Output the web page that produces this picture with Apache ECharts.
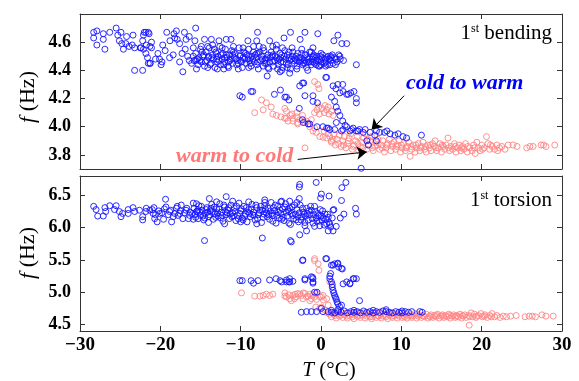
<!DOCTYPE html>
<html><head><meta charset="utf-8">
<script src="https://cdn.jsdelivr.net/npm/echarts@6/dist/echarts.min.js"></script>
<style>html,body{margin:0;padding:0;background:#fff}#c{width:579px;height:381px}</style>
</head><body><div id="c"></div>
<script>
// ---------- DATA ----------
const xTicks = [-30, -20, -10, 0, 10, 20, 30];
const bendTicks = [3.8, 4.0, 4.2, 4.4, 4.6];
const torsTicks = [4.5, 5.0, 5.5, 6.0, 6.5];

// 1st bending, cold to warm (blue): sparse points
const bendBlueSparse = [
[-28.3,4.67],[-27.9,4.68],[-28.3,4.63],[-27.9,4.58],[-27.1,4.66],[-27.1,4.62],[-26.9,4.55],[-26.3,4.67],[-25.5,4.70],[-25.3,4.65],[-25.1,4.61],[-24.8,4.59],[-24.6,4.55],[-24.3,4.59],[-23.9,4.57],[-23.5,4.58],[-23.2,4.56],[-24.2,4.64],[-24.9,4.67],[-23.4,4.65],[-22.1,4.65],[-23.2,4.40],[-22.2,4.40],[-21.8,4.67],[-21.4,4.66],[-22.5,4.56],[-22.1,4.55],[-21.8,4.52],[-21.3,4.57],[-21.1,4.60],[-21.6,4.49],[-21.3,4.45],[-20.6,4.48],[-20.3,4.52],[-20.1,4.48],[-19.8,4.46],[-19.4,4.54],[-19.7,4.58],[-18.8,4.61],[-19.2,4.67],[-18.3,4.66],[-17.9,4.62],[-17.6,4.59],[-17.3,4.52],[-16.9,4.55],[-16.6,4.50],[-16.4,4.47],[-16.1,4.45],[-15.6,4.47],[-15.9,4.56],[-17.0,4.67],[-16.4,4.64],[-15.7,4.61],
[-22.0,4.67],[-21.5,4.67],[-22.2,4.61],[-21.75,4.58],[-22.4,4.56],[-21.1,4.56],[-21.5,4.45],[-21.25,4.45],[-19.9,4.44],[-18.0,4.68],[-15.6,4.70],[-16.8,4.62],[-18.2,4.63],[-14.5,4.62],[-13.65,4.62],[-12.7,4.61],[-11.8,4.62],[-11.2,4.62],[-14.1,4.57],[-18.4,4.51],[-18.85,4.49],[-17.6,4.46],[-17.2,4.39],[-12.1,4.41],
[-7.9,4.67],[-3.8,4.67],[-2.0,4.67],[-0.4,4.66],[-2.6,4.62],[-4.6,4.63],[1.6,4.61],[2.1,4.65],[2.6,4.59],[3.2,4.59],[4.4,4.44],[0.7,4.35],[-6.7,4.36],[-9.1,4.61],[-8.0,4.61],[-6.4,4.61],[-5.55,4.58],[-1.0,4.56],[1.3,4.49],[2.35,4.50],[1.1,4.44],[-0.15,4.43],[-1.65,4.40],[-3.9,4.38],[-5.1,4.39]
];
// 1st bending, blue: dense band
const bendBlueBand = [
[-15.8,4.47],[-15.6,4.52],[-15.3,4.44],[-15.2,4.49],[-15.0,4.55],[-14.9,4.46],[-14.7,4.50],[-14.5,4.43],[-14.3,4.53],[-14.2,4.47],[-14.0,4.49],[-13.9,4.56],[-13.7,4.45],[-13.5,4.51],[-13.4,4.48],[-13.2,4.42],[-13.1,4.53],[-12.9,4.46],[-12.8,4.50],[-12.6,4.57],[-12.5,4.44],[-12.3,4.48],[-12.2,4.52],[-12.0,4.46],[-11.9,4.55],[-11.7,4.49],[-11.6,4.43],[-11.4,4.51],[-11.3,4.47],[-11.1,4.54],[-11.0,4.45],[-10.8,4.49],[-10.7,4.52],[-10.5,4.44],[-10.4,4.47],[-10.2,4.56],[-10.1,4.50],[-9.9,4.46],[-9.8,4.42],[-9.6,4.53],[-9.5,4.48],[-9.3,4.45],[-9.2,4.51],[-9.0,4.55],[-8.9,4.47],[-8.7,4.43],[-8.6,4.50],[-8.4,4.53],[-8.3,4.46],[-8.1,4.49],[-8.0,4.44],[-7.8,4.52],[-7.7,4.57],[-7.5,4.47],[-7.4,4.50],[-7.2,4.43],[-7.1,4.54],[-6.9,4.48],[-6.8,4.45],[-6.6,4.51],[-6.5,4.41],[-6.3,4.49],[-6.2,4.53],[-6.0,4.46],[-5.9,4.43],[-5.7,4.50],[-5.6,4.55],[-5.4,4.47],[-5.3,4.44],[-5.1,4.52],[-5.0,4.49],[-4.8,4.42],[-4.7,4.46],[-4.5,4.54],[-4.4,4.48],[-4.2,4.51],[-4.1,4.44],[-3.9,4.47],[-3.8,4.41],[-3.6,4.50],[-3.5,4.53],[-3.3,4.45],[-3.2,4.48],[-3.0,4.43],[-2.9,4.52],[-2.7,4.46],[-2.6,4.49],[-2.4,4.55],[-2.3,4.44],[-2.1,4.47],[-2.0,4.51],[-1.8,4.42],[-1.7,4.49],[-1.5,4.46],[-1.4,4.53],[-1.2,4.44],[-1.1,4.48],[-0.9,4.51],[-0.8,4.45],[-0.6,4.47],[-0.5,4.50],[-0.3,4.43],[-0.2,4.48],[0.0,4.46],[0.2,4.51],[0.4,4.45],[0.5,4.48],[0.8,4.44],[0.9,4.50],[1.2,4.47],[1.5,4.45],[1.7,4.49],[2.0,4.46],[2.4,4.48],[2.8,4.47],
[-15.9,4.50],[-15.4,4.48],[-14.8,4.53],[-14.4,4.46],[-13.8,4.44],[-13.3,4.55],[-12.7,4.47],[-12.1,4.44],[-11.8,4.51],[-11.2,4.48],[-10.9,4.53],[-10.3,4.45],[-9.7,4.49],[-9.4,4.52],[-8.8,4.45],[-8.5,4.48],[-7.9,4.46],[-7.6,4.53],[-7.0,4.47],[-6.7,4.49],[-6.1,4.50],[-5.8,4.47],[-5.2,4.48],[-4.9,4.51],[-4.3,4.45],[-4.0,4.49],[-3.4,4.47],[-3.1,4.50],[-2.5,4.47],[-2.2,4.45],[-1.6,4.48],[-1.3,4.46],[-0.7,4.49],[-0.4,4.47],[0.1,4.49],[0.6,4.46],[1.0,4.48],[1.4,4.51],[1.9,4.48],
[-15.1,4.47],[-14.6,4.51],[-13.6,4.49],[-13.0,4.48],[-12.4,4.51],[-11.5,4.46],[-10.6,4.48],[-10.0,4.51],[-9.1,4.48],[-8.2,4.51],[-7.3,4.48],[-6.4,4.46],[-5.5,4.49],[-4.6,4.50],[-3.7,4.48],[-2.8,4.49],[-1.9,4.51],[-1.0,4.46],[-0.1,4.50],[0.7,4.49],
[-15.5,4.41],[-14.9,4.57],[-14.1,4.42],[-13.5,4.58],[-12.9,4.41],[-12.3,4.56],[-11.5,4.42],[-10.9,4.57],[-10.3,4.41],[-9.7,4.56],[-9.0,4.42],[-8.4,4.57],[-7.8,4.41],[-7.2,4.56],[-6.6,4.42],[-6.0,4.57],[-5.4,4.41],[-4.8,4.56],[-4.2,4.42],[-3.6,4.56],[-3.0,4.41],[-2.4,4.52],[-1.8,4.46],[-1.2,4.53],[-0.6,4.44],[0.0,4.52],[0.6,4.43],[1.2,4.50],[1.8,4.44],[2.2,4.51],
[-14.0,4.50],[-13.0,4.52],[-12.0,4.49],[-11.0,4.51],[-10.0,4.47],[-9.0,4.50],[-8.0,4.52],[-7.0,4.45],[-6.0,4.51],[-5.0,4.46],[-4.0,4.53],[-3.0,4.47],[-2.0,4.45],[-1.0,4.50],[0.0,4.44]
];
// 1st bending, blue: transition branch
const bendBlueTrans = [
[-10.1,4.22],[-9.8,4.21],[-8.7,4.25],[-8.5,4.25],[-5.8,4.23],[-5.05,4.26],[-4.3,4.21],[-4.0,4.19],[-4.9,4.40],[-4.5,4.21],[-2.65,4.29],[-2.15,4.31],[-2.3,4.31],[-2.0,4.22],[-1.0,4.22],[-1.0,4.18],[-0.45,4.17],[-2.7,4.13],[0.6,4.35],[1.5,4.29],[2.1,4.30],[2.7,4.30],[1.85,4.27],[2.35,4.24],[1.3,4.21],[1.7,4.18],[1.9,4.14],[2.1,4.11],[2.35,4.08],[2.7,4.04],[3.0,4.01],[2.75,4.25],[3.4,4.23],[3.2,4.23],[3.7,4.24],[4.1,4.25],[4.4,4.20],[4.4,4.17],[4.8,3.98],[5.0,3.705],
[-2.3,4.05],[-2.2,4.03],[-1.6,4.02],[-1.4,4.02],[-0.5,4.00],[0.25,4.00],[0.7,3.99],[0.9,3.99],[1.1,3.98],[1.7,3.98],[1.9,4.03],[2.55,3.97],[2.75,3.98],[3.6,3.97],[3.8,3.98],[4.4,3.97],[4.6,3.97],[5.25,3.96],[6.1,3.96],[6.7,3.94],[6.9,3.97],[7.3,3.96],[7.9,3.96],[8.6,3.95],[9.2,3.94],[9.6,3.95],[10.2,3.93],[10.65,3.92],[12.5,3.94],[5.7,3.90],[5.9,3.87],[6.9,3.90],[3.2,4.00],[4.0,3.99],[5.5,3.98],[8.2,3.97]
];
// 1st bending, warm to cold (pink): transition
const bendPinkTrans = [
[-8.25,4.10],[-7.4,4.19],[-6.8,4.17],[-7.2,4.12],[-6.2,4.14],[-5.55,4.08],[-4.5,4.13],[-4.3,4.06],[-3.5,4.06],[-2.65,4.05],[-2.0,4.03],[-2.9,4.02],[-1.4,4.00],[-0.8,3.99],[-0.6,3.96],[0.25,3.925],[-2.0,3.85],[-0.8,4.32],[-0.4,4.30],[-0.25,4.27],
[-0.8,4.10],[-0.5,4.12],[-0.2,4.09],[0.1,4.13],[0.4,4.10],[0.7,4.12],[1.0,4.09],[1.3,4.11],[-0.3,4.14],[0.5,4.15],[0.9,4.14],[1.5,4.08],
[-4.5,4.06],[-4.1,4.04],[-3.5,4.04],[-2.9,4.03],[-1.8,4.04],[-1.0,3.97],[-0.15,3.93],[0.7,3.92],[1.3,3.90],[-5.0,4.07],[-6.0,4.09],[-3.8,4.08],[-3.0,4.07],[-1.6,4.02],[-1.2,4.05],[0.4,3.97],[0.9,3.95],[-4.3,4.11],[-3.6,4.09],[-3.0,4.10],[-2.3,4.08]
];
// 1st bending, pink: main band
const bendPinkBand = [
[1.1,3.93],[1.3,3.89],[1.6,3.95],[1.8,3.87],[2.0,3.91],[2.3,3.94],[2.5,3.86],[2.7,3.90],[2.9,3.93],[3.1,3.85],[3.3,3.88],[3.5,3.92],[3.7,3.95],[3.9,3.84],[4.1,3.87],[4.3,3.90],[4.5,3.93],[4.7,3.83],[4.9,3.86],[5.1,3.89],[5.3,3.92],[5.5,3.95],[5.7,3.84],[5.9,3.87],[6.1,3.90],[6.3,3.93],[6.5,3.83],[6.7,3.86],[6.9,3.89],[7.1,3.91],[7.3,3.84],[7.5,3.87],[7.7,3.90],[7.9,3.82],[8.1,3.85],[8.3,3.88],[8.5,3.91],[8.7,3.83],[8.9,3.86],[9.1,3.89],[9.3,3.84],[9.5,3.87],[9.7,3.90],[9.9,3.82],[10.1,3.85],[10.3,3.88],[10.5,3.83],[10.7,3.86],[10.9,3.89],[11.1,3.79],[11.3,3.84],[11.5,3.87],[11.7,3.82],[11.9,3.85],[12.1,3.88],[12.3,3.83],[12.5,3.86],[12.7,3.89],[12.9,3.84],[13.1,3.82],[13.3,3.87],[13.5,3.85],[13.7,3.83],[13.9,3.88],[14.1,3.86],[14.2,3.90],[14.4,3.83],[14.6,3.85],[14.8,3.88],[15.0,3.82],[15.2,3.86],[15.4,3.84],[15.6,3.87],[15.8,3.92],[16.0,3.83],[16.2,3.86],[16.4,3.84],[16.6,3.88],[16.8,3.82],[17.0,3.85],[17.2,3.87],[17.4,3.83],[17.6,3.86],[17.8,3.84],[18.0,3.88],[18.2,3.82],[18.5,3.85],[18.8,3.83],[19.0,3.87],[19.2,3.81],[19.4,3.89],[19.6,3.85],[19.8,3.83],[20.0,3.87],[20.3,3.85],[20.6,3.93],[20.8,3.88],[21.0,3.84],[21.3,3.86],[21.6,3.84],[21.9,3.87],[22.2,3.85],[22.5,3.86],[22.9,3.84],[23.3,3.87],[23.9,3.87],[24.4,3.86],[25.6,3.85],[26.0,3.86],[26.4,3.86],[27.4,3.87],[27.7,3.87],[28.0,3.86],[29.1,3.87],
[1.5,3.91],[2.2,3.88],[2.8,3.87],[3.4,3.90],[4.0,3.86],[4.6,3.88],[5.2,3.85],[5.8,3.91],[6.4,3.85],[7.0,3.87],[7.6,3.85],[8.2,3.87],[8.8,3.88],[9.4,3.86],[10.0,3.87],[10.6,3.85],[11.2,3.86],[11.8,3.87],[12.4,3.85],[13.0,3.86],[13.6,3.87],[14.3,3.85],[15.1,3.87],[15.9,3.85],[16.7,3.86],[17.5,3.85],[18.3,3.86],[19.1,3.85],[20.1,3.84],[21.1,3.87],[22.0,3.83]
];

// 1st torsion, blue: sparse / outliers
const torsBlueSparse = [
[-28.3,6.33],[-28.0,6.28],[-27.8,6.18],[-27.1,6.18],[-26.9,6.31],[-26.3,6.34],[-26.8,6.25],[-25.5,6.34],[-25.7,6.28],[-25.1,6.25],[-24.9,6.17],[-24.7,6.22],[-24.0,6.22],[-24.0,6.28],[-23.4,6.31],[-23.2,6.25],[-22.6,6.27],[-22.2,6.17],[-22.2,6.12],[-21.75,6.30],[-21.3,6.27],[-20.9,6.22],[-20.7,6.14],[-20.4,6.09],[-20.1,6.22],[-19.35,6.44],[-19.3,6.32],[-18.85,6.25],[-18.6,6.09],[-18.4,6.17],[-18.0,6.30],[-17.6,6.22],[-17.4,6.35],[-17.2,6.14],[-16.8,6.27],[-16.35,6.19],[-15.9,6.38],[-15.5,6.25],[-15.3,6.14],
[-14.5,5.80],[-13.9,6.45],[-11.8,6.48],[-7.0,6.43],[-4.9,6.41],[-3.9,6.41],[-2.7,6.45],[-2.65,6.67],[-2.7,6.63],[-0.6,6.70],[3.1,6.70],[2.6,6.62],[0.05,6.52],[-0.05,6.46],[1.0,6.49],[2.55,6.42],[1.6,6.28],[4.3,6.30],[4.4,6.21],[2.85,6.21],[2.4,6.15],[1.9,6.02],[1.1,6.05],[1.5,5.95],[0.9,5.95],[-1.8,5.95],[-2.65,5.89],[-3.8,5.80],[-3.7,5.78],[-7.3,5.84],[-0.8,6.02],[-0.15,6.03],[1.5,6.27]
];
// 1st torsion, blue: dense band
const torsBlueBand = [
[-21.8,6.25],[-21.0,6.28],[-20.6,6.20],[-20.2,6.26],[-19.8,6.23],[-19.5,6.29],[-19.0,6.20],[-18.7,6.27],[-18.2,6.22],[-17.8,6.19],[-17.5,6.26],[-17.0,6.23],[-16.7,6.30],[-16.3,6.24],[-16.5,6.14],[-17.9,6.33],[-19.6,6.13],[-20.8,6.31],
[-16.0,6.22],[-15.8,6.30],[-15.6,6.16],[-15.4,6.25],[-15.2,6.34],[-15.0,6.19],[-14.8,6.27],[-14.6,6.12],[-14.4,6.22],[-14.2,6.31],[-14.0,6.17],[-13.8,6.26],[-13.6,6.36],[-13.4,6.13],[-13.2,6.21],[-13.0,6.29],[-12.8,6.18],[-12.6,6.37],[-12.4,6.24],[-12.2,6.10],[-12.0,6.32],[-11.8,6.20],[-11.6,6.27],[-11.4,6.14],[-11.2,6.35],[-11.0,6.23],[-10.8,6.30],[-10.6,6.11],[-10.4,6.19],[-10.2,6.38],[-10.0,6.26],[-9.8,6.15],[-9.6,6.33],[-9.4,6.21],[-9.2,6.09],[-9.0,6.28],[-8.8,6.17],[-8.6,6.36],[-8.4,6.24],[-8.2,6.12],[-8.0,6.31],[-7.8,6.20],[-7.6,6.27],[-7.4,6.08],[-7.2,6.16],[-7.0,6.34],[-6.8,6.23],[-6.6,6.30],[-6.4,6.13],[-6.2,6.39],[-6.0,6.19],[-5.8,6.26],[-5.6,6.07],[-5.4,6.33],[-5.2,6.15],[-5.0,6.22],[-4.8,6.29],[-4.6,6.11],[-4.4,6.37],[-4.2,6.18],[-4.0,6.25],[-3.8,6.05],[-3.6,6.32],[-3.4,6.14],[-3.2,6.21],[-3.0,6.28],[-2.8,6.09],[-2.6,6.35],[-2.4,6.17],[-2.2,6.24],[-2.0,6.03],[-1.8,6.30],[-1.6,6.12],[-1.4,6.20],[-1.2,6.27],[-1.0,6.07],[-0.8,6.33],[-0.6,6.15],[-0.4,6.22],[-0.2,6.10],[0.0,6.18],[0.2,6.26],[0.4,6.04],[0.6,6.13],[0.8,6.21],[1.0,6.08],[1.2,6.01],[1.4,6.15],
[-15.9,6.13],[-15.5,6.37],[-15.1,6.24],[-14.7,6.18],[-14.3,6.28],[-13.9,6.20],[-13.5,6.25],[-13.1,6.16],[-12.7,6.29],[-12.3,6.19],[-11.9,6.25],[-11.5,6.31],[-11.1,6.17],[-10.7,6.25],[-10.3,6.14],[-9.9,6.29],[-9.5,6.18],[-9.1,6.24],[-8.7,6.29],[-8.3,6.19],[-7.9,6.14],[-7.5,6.33],[-7.1,6.21],[-6.7,6.17],[-6.3,6.26],[-5.9,6.31],[-5.5,6.19],[-5.1,6.27],[-4.7,6.16],[-4.3,6.24],[-3.9,6.30],[-3.5,6.19],[-3.1,6.12],[-2.7,6.23],[-2.3,6.30],[-1.9,6.18],[-1.5,6.26],[-1.1,6.14],[-0.7,6.25],[-0.3,6.19],[0.1,6.12],[0.5,6.21],[0.9,6.16],
[-15.7,6.20],[-14.9,6.33],[-14.1,6.24],[-13.3,6.32],[-12.5,6.15],[-11.7,6.23],[-10.9,6.18],[-10.1,6.22],[-9.3,6.31],[-8.5,6.20],[-7.7,6.23],[-6.9,6.28],[-6.1,6.22],[-5.3,6.24],[-4.5,6.32],[-3.7,6.22],[-2.9,6.17],[-2.1,6.21],[-1.3,6.33],[-0.5,6.10],[0.3,6.15],
[-15.3,6.28],[-14.5,6.15],[-13.7,6.30],[-12.9,6.23],[-12.1,6.35],[-11.3,6.21],[-10.5,6.33],[-9.7,6.12],[-8.9,6.22],[-8.1,6.35],[-7.3,6.27],[-6.5,6.20],[-5.7,6.35],[-4.9,6.13],[-4.1,6.28],[-3.3,6.35],[-2.5,6.12],[-1.7,6.22],[-0.9,6.20],[-0.1,6.28],[0.7,6.06],
[-14.0,6.08],[-12.0,6.06],[-10.0,6.09],[-8.0,6.06],[-6.0,6.10],[-4.0,6.07],[-2.0,6.08],[-13.0,6.40],[-11.0,6.41],[-9.0,6.40],[-7.0,6.39],[-5.0,6.40],[-3.0,6.39]
];
// 1st torsion, blue: transition and low branch
const torsBlueTrans = [
[-10.1,5.18],[-9.8,5.18],[-8.7,5.18],[-8.4,5.14],[-7.85,5.18],[-6.4,5.19],[-5.6,5.21],[-5.1,5.18],[-4.3,5.19],[-4.0,5.16],[-3.9,5.21],[-2.0,5.21],[-1.05,5.23],[-1.0,5.14],[-2.25,5.50],[-2.3,5.49],[0.6,5.52],[0.7,5.52],[1.5,5.42],[1.3,5.42],[1.7,5.44],[2.05,5.44],[2.1,5.45],[2.2,5.39],[2.55,5.37],[2.65,5.36],[2.75,5.13],[3.2,5.16],[3.6,5.13],[3.6,5.14],[4.0,5.21],[4.1,5.21],[4.4,5.21],[4.8,4.87],[-0.8,5.0],[-0.5,5.0],[-4.9,5.16],[-4.3,5.16],[-3.9,5.16],[-3.5,5.17],[-2.0,5.19],[-1.0,5.21],[-1.0,5.16],[-1.2,5.24],[1.1,5.21],[1.3,5.16],[1.4,5.08],[1.5,5.03],[1.7,4.95],[1.9,4.89],[2.1,4.82],[2.55,4.80],[1.2,5.29],[1.1,5.25],[1.4,5.12],[1.6,4.99],[1.8,4.92],[2.0,4.85],[2.3,4.78],
[-2.45,4.69],[-1.8,4.70],[-1.2,4.70],[-0.55,4.70],[0.05,4.75],[0.25,4.70],[0.9,4.70],[1.3,4.69],[1.3,4.72],[1.7,4.68],[2.1,4.70],[2.1,4.73],[2.5,4.69],[2.9,4.71],[3.3,4.68],[3.7,4.70],[4.1,4.69],[4.1,4.72],[4.5,4.70],[4.9,4.68],[5.3,4.71],[5.7,4.69],[6.1,4.70],[6.5,4.68],[6.5,4.72],[6.9,4.70],[7.3,4.69],[7.7,4.71],[8.1,4.70],[8.1,4.73],[8.5,4.69],[8.9,4.68],[9.3,4.70],[9.7,4.69],[10.1,4.71],[10.1,4.68],[10.5,4.70],[10.9,4.69],[11.3,4.70],[12.3,4.70],[12.6,4.69]
];
// 1st torsion, pink: transition
const torsPinkTrans = [
[-9.9,4.99],[-8.25,4.94],[-7.6,4.94],[-7.2,4.95],[-6.8,4.97],[-6.4,4.95],[-6.0,4.97],[-4.5,4.99],[-4.5,4.94],[-4.3,4.93],[-3.9,4.90],[-3.7,4.87],[-3.5,4.95],[-3.3,4.90],[-3.1,4.93],[-2.9,4.98],[-2.65,4.97],[-2.45,4.95],[-2.25,4.90],[-2.0,4.98],[-1.8,4.93],[-1.6,4.94],[-1.4,4.87],[-1.2,4.90],[-0.55,4.89],[-0.8,5.49],[-0.8,5.52],[-0.35,5.44],[-0.25,5.34],[-0.8,4.93],[-0.15,4.93],[0.05,4.93],[0.25,4.95],[0.7,4.90],[-0.65,4.77],[0.05,4.77],[-0.15,4.75],[1.1,5.16],[-1.0,4.96],[-2.2,4.99],[-3.2,4.97],[-4.0,4.96],[-1.4,4.97],[-0.6,4.98],[0.3,4.88],[0.9,4.80],[0.5,4.72],[0.8,4.68]
];
// 1st torsion, pink: main band
const torsPinkBand = [
[1.1,4.66],[1.3,4.62],[1.5,4.69],[1.7,4.64],[1.9,4.60],[2.1,4.67],[2.3,4.63],[2.5,4.70],[2.7,4.61],[2.9,4.65],[3.1,4.68],[3.3,4.60],[3.5,4.64],[3.7,4.67],[3.9,4.62],[4.1,4.59],[4.3,4.66],[4.5,4.63],[4.7,4.69],[4.9,4.61],[5.1,4.65],[5.3,4.68],[5.5,4.60],[5.7,4.63],[5.9,4.66],[6.1,4.62],[6.3,4.59],[6.5,4.65],[6.7,4.68],[6.9,4.61],[7.1,4.64],[7.3,4.67],[7.5,4.60],[7.7,4.63],[7.9,4.66],[8.1,4.62],[8.3,4.59],[8.5,4.65],[8.7,4.68],[8.9,4.61],[9.1,4.64],[9.3,4.66],[9.5,4.60],[9.7,4.63],[9.9,4.67],[10.1,4.61],[10.3,4.64],[10.5,4.66],[10.7,4.60],[10.9,4.63],[11.1,4.65],[11.3,4.61],[11.5,4.64],[11.7,4.67],[11.9,4.60],[12.1,4.63],[12.3,4.65],[12.5,4.61],[12.7,4.64],[12.9,4.62],[13.1,4.66],[13.3,4.60],[13.5,4.63],[13.7,4.65],[13.9,4.61],[14.1,4.64],[14.3,4.62],[14.5,4.66],[14.7,4.60],[14.9,4.63],[15.1,4.65],[15.3,4.61],[15.5,4.64],[15.7,4.62],[15.9,4.66],[16.1,4.60],[16.3,4.63],[16.5,4.65],[16.7,4.61],[16.9,4.64],[17.1,4.62],[17.3,4.66],[17.5,4.60],[17.7,4.63],[17.9,4.65],[18.1,4.61],[18.4,4.64],[18.7,4.68],[18.9,4.62],[19.1,4.66],[19.3,4.61],[19.6,4.64],[19.9,4.67],[20.1,4.62],[20.4,4.65],[20.7,4.61],[21.0,4.64],[21.3,4.67],[21.6,4.62],[21.9,4.64],[22.3,4.61],[22.7,4.63],[23.1,4.62],
[1.6,4.66],[2.4,4.65],[3.2,4.63],[4.0,4.65],[4.8,4.64],[5.6,4.66],[6.4,4.62],[7.2,4.63],[8.0,4.64],[8.8,4.63],[9.6,4.65],[10.4,4.62],[11.2,4.63],[12.0,4.66],[12.8,4.63],[13.6,4.62],[14.4,4.64],[15.2,4.63],[16.0,4.64],[16.8,4.63],[17.6,4.64],[18.5,4.62],[19.4,4.63],[20.3,4.63],[21.2,4.62],
[23.6,4.63],[24.3,4.64],[25.4,4.62],[25.9,4.63],[26.3,4.63],[26.7,4.62],[27.5,4.65],[28.0,4.63],[28.9,4.63],[18.45,4.49]
];

// annotation arrows (data coordinates): [start, end]
const arrowColdWarm = [[10.35, 4.22], [6.3, 3.98]];
const arrowWarmCold = [[-2.9, 3.768], [5.7, 3.821]];

// ---------- BUILD ----------
const bendBlue = bendBlueSparse.concat(bendBlueBand, bendBlueTrans);
const bendPink = bendPinkTrans.concat(bendPinkBand);
const torsBlue = torsBlueSparse.concat(torsBlueBand, torsBlueTrans);
const torsPink = torsPinkTrans.concat(torsPinkBand);

const FONT = '"Liberation Serif","Times New Roman",serif';
const BLUE = '#1414ff', PINK = '#ff8585', AX = '#333';
const fmtX = v => (v < 0 ? '\u2212' : '') + Math.abs(v);

function xAx(grid, pos, labels) {
  return {type:'value', gridIndex:grid, position:pos, min:-30, max:30, interval:10,
    axisLine:{show:true, onZero:false, lineStyle:{color:AX, width:1}},
    axisTick:{show:true, inside:true, length:5, lineStyle:{color:AX}},
    axisLabel:{show:labels, formatter:fmtX, color:'#000', fontFamily:FONT, fontWeight:'bold', fontSize:19, margin:5},
    splitLine:{show:false}};
}
function yAx(grid, pos, labels, min, max, ticks) {
  return {type:'value', gridIndex:grid, position:pos, min:min, max:max,
    axisLine:{show:true, onZero:false, lineStyle:{color:AX, width:1}},
    axisTick:{show:true, inside:true, length:5, lineStyle:{color:AX}, customValues:ticks},
    axisLabel:{show:labels, customValues:ticks, formatter:v => v.toFixed(1), color:'#000', fontFamily:FONT, fontWeight:'bold', fontSize:18, margin:9},
    splitLine:{show:false}};
}
function sc(data, color, gi) {
  return {type:'scatter', xAxisIndex:gi*2, yAxisIndex:gi*2, data:data, symbol:'circle', symbolSize:6,
    itemStyle:{color:'rgba(0,0,0,0)', borderColor:color, borderWidth:1, opacity:0.9},
    emphasis:{disabled:true}, silent:true};
}
function arrows(list) {
  return {type:'scatter', xAxisIndex:0, yAxisIndex:0, data:[], silent:true, itemStyle:{color:'#000'},
    markLine:{silent:true, symbol:['none','arrow'], symbolSize:10, animation:false,
      label:{show:false}, itemStyle:{color:'#000'}, lineStyle:{color:'#000', width:1, type:'solid', opacity:1},
      emphasis:{disabled:true},
      data:list.map(a => [{coord:a[0], symbol:'none'},{coord:a[1], symbol:'arrow'}])}};
}

const chart = echarts.init(document.getElementById('c'), null, {renderer:'canvas'});
chart.setOption({
  animation:false,
  grid:[{left:80, top:14, right:17, height:155}, {left:80, top:176, right:17, height:155}],
  xAxis:[xAx(0,'bottom',false), xAx(0,'top',false), xAx(1,'bottom',true), xAx(1,'top',false)],
  yAxis:[yAx(0,'left',true,3.7,4.8,bendTicks), yAx(0,'right',false,3.7,4.8,bendTicks),
         yAx(1,'left',true,4.4,6.8,torsTicks), yAx(1,'right',false,4.4,6.8,torsTicks)],
  series:[sc(bendPink,PINK,0), sc(bendBlue,BLUE,0),
          sc(torsPink,PINK,1), sc(torsBlue,BLUE,1), arrows([arrowColdWarm, arrowWarmCold])],
  graphic:[
    {type:'text', x:28, y:97, rotation:Math.PI/2, style:{text:'{i|f} (Hz)', textAlign:'center', textVerticalAlign:'middle', font:'22px '+FONT, fill:'#000', rich:{i:{fontStyle:'italic', fontSize:22, fontFamily:FONT}}}},
    {type:'text', x:28, y:253, rotation:Math.PI/2, style:{text:'{i|f} (Hz)', textAlign:'center', textVerticalAlign:'middle', font:'22px '+FONT, fill:'#000', rich:{i:{fontStyle:'italic', fontSize:22, fontFamily:FONT}}}},
    {type:'text', x:329, y:370, style:{text:'{i|T} (\u00b0C)', textAlign:'center', textVerticalAlign:'middle', font:'21px '+FONT, fill:'#000', rich:{i:{fontStyle:'italic', fontSize:21, fontFamily:FONT}}}},
    {type:'text', x:552, y:33, style:{text:'1{s|st} bending', textAlign:'right', textVerticalAlign:'middle', font:'21px '+FONT, fill:'#000', rich:{s:{fontSize:12, fontFamily:FONT, verticalAlign:'top', padding:[0,0,6,0]}}}},
    {type:'text', x:552, y:200, style:{text:'1{s|st} torsion', textAlign:'right', textVerticalAlign:'middle', font:'21px '+FONT, fill:'#000', rich:{s:{fontSize:12, fontFamily:FONT, verticalAlign:'top', padding:[0,0,6,0]}}}},
    {type:'text', x:406, y:83, style:{text:'cold to warm', textAlign:'left', textVerticalAlign:'middle', font:'italic bold 22px '+FONT, fill:'#0000ff'}},
    {type:'text', x:176, y:156, style:{text:'warm to cold', textAlign:'left', textVerticalAlign:'middle', font:'italic bold 22px '+FONT, fill:'#ff7878'}}
  ]
});
</script></body></html>
